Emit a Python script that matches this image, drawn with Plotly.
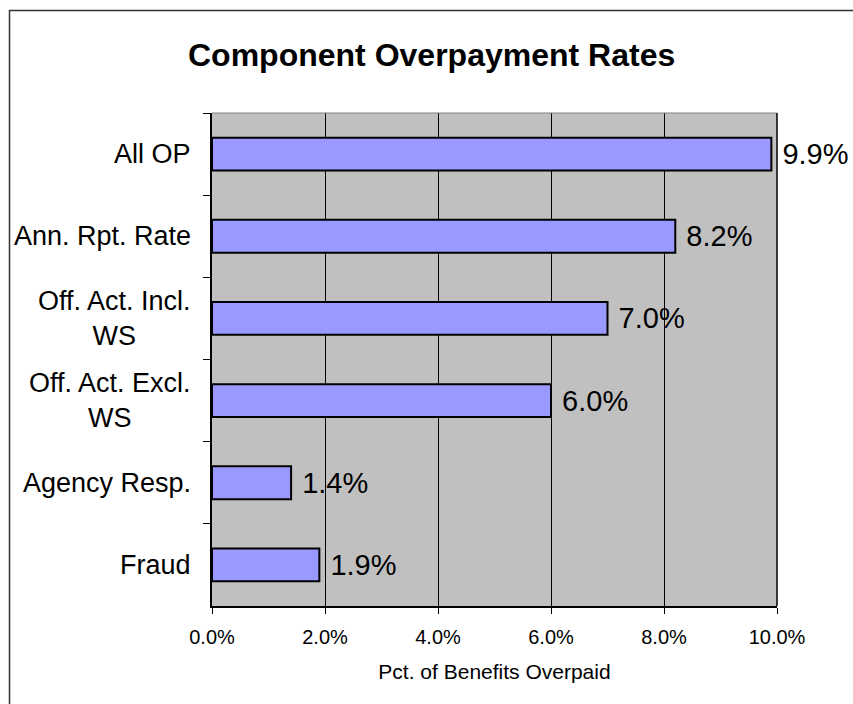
import plotly.graph_objects as go

categories = ["All OP", "Ann. Rpt. Rate", "Off. Act. Incl.<br>WS", "Off. Act. Excl.<br>WS", "Agency Resp.", "Fraud"]
values = [9.9, 8.2, 7.0, 6.0, 1.4, 1.9]
x_ticks = [0, 2, 4, 6, 8, 10]
x_tick_labels = ["0.0%", "2.0%", "4.0%", "6.0%", "8.0%", "10.0%"]

FONT = "Liberation Sans, Arial, sans-serif"

fig = go.Figure()
fig.add_trace(go.Bar(
    y=categories, x=values, orientation="h",
    marker=dict(color="#9999FF", line=dict(color="black", width=2)),
    text=[f" {v:.1f}%" for v in values],
    textposition="outside", cliponaxis=False,
    textfont=dict(family=FONT, size=29, color="black"),
    hoverinfo="skip",
))

for c in categories:
    fig.add_annotation(
        x=-0.034, xref="paper", y=c, yref="y",
        text=c, showarrow=False, xanchor="right", yanchor="middle", align="center",
        font=dict(family=FONT, size=27, color="black"),
    )

fig.update_layout(
    width=853, height=704,
    margin=dict(l=212, r=76, t=113, b=98),
    paper_bgcolor="white", plot_bgcolor="#C0C0C0",
    showlegend=False, bargap=0.6,
    title=dict(text="<b>Component Overpayment Rates</b>", x=0.506, xanchor="center",
               y=1 - 55 / 704, yanchor="middle", xref="container", yref="container",
               font=dict(family=FONT, size=32, color="black")),
    xaxis=dict(range=[0, 10], tickvals=x_ticks, ticktext=x_tick_labels,
               showgrid=True, gridcolor="black", gridwidth=1,
               showline=True, linecolor="black", linewidth=1.5,
               ticks="outside", ticklen=6, tickcolor="black",
               ticklabelstandoff=6,
               tickfont=dict(family=FONT, size=20, color="black"),
               zeroline=False, fixedrange=True,
               title=dict(text="Pct. of Benefits Overpaid", standoff=18,
                          font=dict(family=FONT, size=21, color="black"))),
    yaxis=dict(categoryorder="array", categoryarray=categories, autorange="reversed",
               showticklabels=False, tickson="boundaries",
               ticks="outside", ticklen=7, tickcolor="black",
               showline=True, linecolor="black", linewidth=1.5,
               showgrid=False, zeroline=False, fixedrange=True),
)

# plot area top/right border and outer chart frame
fig.add_shape(type="line", xref="paper", yref="paper", x0=0, x1=1, y0=1, y1=1,
              line=dict(color="#808080", width=1))
fig.add_shape(type="line", xref="paper", yref="paper", x0=1, x1=1, y0=0, y1=1,
              line=dict(color="black", width=1.5))
fig.add_shape(type="rect", xref="paper", yref="paper",
              x0=(9.5 - 212) / 565, x1=(880 - 212) / 565,
              y0=(606 - 730) / 493, y1=(606 - 10.5) / 493,
              line=dict(color="#333333", width=1.5), fillcolor="rgba(0,0,0,0)")

fig.write_html("out.html")
